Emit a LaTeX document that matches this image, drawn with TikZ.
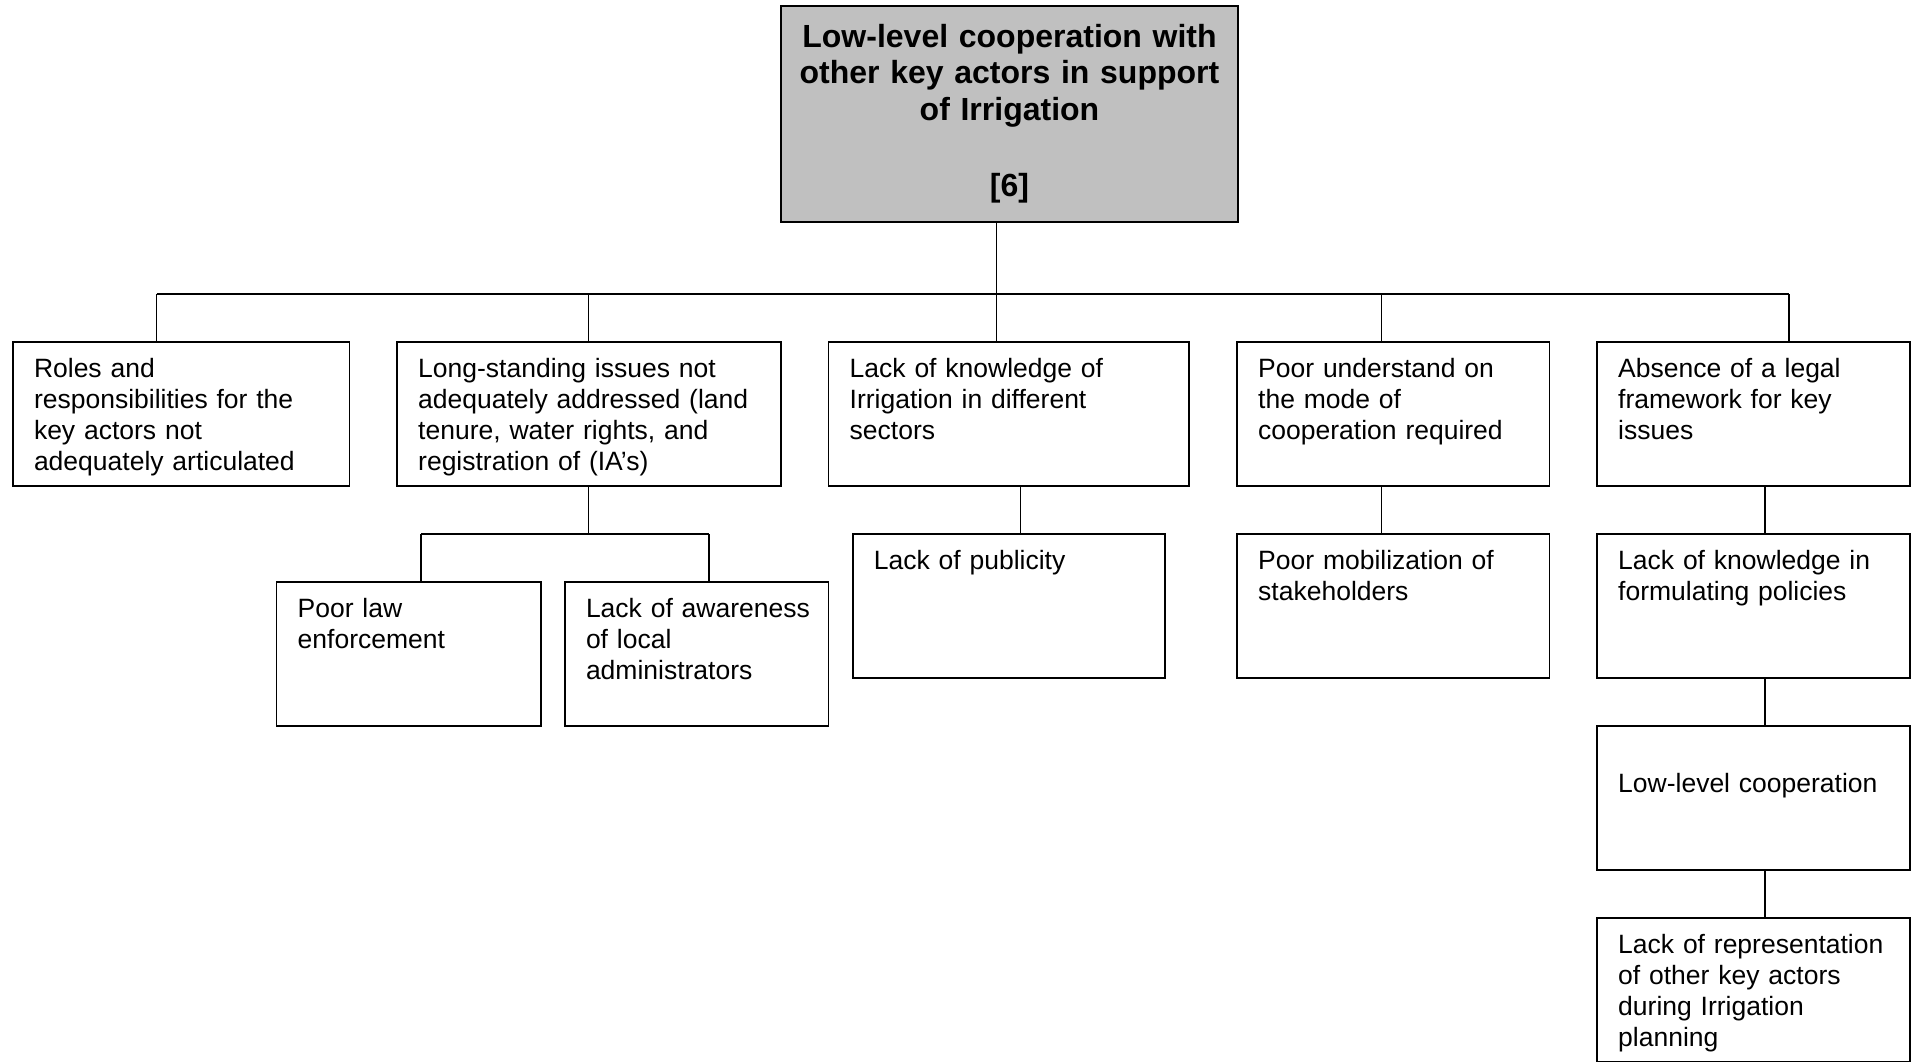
\documentclass[tikz,border=0pt]{standalone}
\usepackage{fontspec}
\setmainfont{Liberation Sans}
\definecolor{titlegray}{RGB}{192,192,192}
\begin{document}
\begin{tikzpicture}[x=1pt,y=-1pt,
  box/.style={draw, line width=1.6pt, inner sep=0pt, outer sep=0pt, minimum height=144pt},
  lbl/.style={anchor=base west, inner sep=0pt, text width=420pt, align=left,
              font=\fontsize{26.5}{31}\selectfont},
  ttl/.style={anchor=base, inner sep=0pt, text width=456pt, align=center,
              font=\fontsize{32}{36.5}\selectfont\bfseries},
  link/.style={line width=1.3pt}]
\clip (0,0) rectangle (1916,1061);

% root problem
\node[box, fill=titlegray, minimum width=457pt, minimum height=216pt] (top) at (1009.5,114) {};
\node[ttl] (ttop) at ([yshift=-41pt]top.north) {Low-level cooperation with\\other key actors in support\\of Irrigation\\\mbox{}\\[3pt]{[6]}};

% first level causes
\node[box, minimum width=336.7pt] (b1) at (181.15,414) {};
\node[box, minimum width=384pt]   (b2) at (589,414) {};
\node[box, minimum width=360.5pt] (b3) at (1008.75,414) {};
\node[box, minimum width=312.5pt] (b4) at (1393.25,414) {};
\node[box, minimum width=313pt]   (b5) at (1753.5,414) {};

\node[lbl] (t1) at ([xshift=21pt,yshift=-35pt]b1.north west) {Roles and\\responsibilities for the\\key actors not\\adequately articulated};
\node[lbl] (t2) at ([xshift=21pt,yshift=-35pt]b2.north west) {Long-standing issues not\\adequately addressed (land\\tenure, water rights, and\\registration of (IA’s)};
\node[lbl] (t3) at ([xshift=21pt,yshift=-35pt]b3.north west) {Lack of knowledge of\\Irrigation in different\\sectors};
\node[lbl] (t4) at ([xshift=21pt,yshift=-35pt]b4.north west) {Poor understand on\\the mode of\\cooperation required};
\node[lbl] (t5) at ([xshift=21pt,yshift=-35pt]b5.north west) {Absence of a legal\\framework for key\\issues};

% second level causes
\node[box, minimum width=264.3pt] (c1) at (408.65,654) {};
\node[box, minimum width=263.7pt] (c2) at (696.65,654) {};
\node[box, minimum width=312.3pt] (c3) at (1008.85,606) {};
\node[box, minimum width=312.5pt] (c4) at (1393.25,606) {};
\node[box, minimum width=313pt]   (c5) at (1753.5,606) {};

\node[lbl] (u1) at ([xshift=21pt,yshift=-35pt]c1.north west) {Poor law\\enforcement};
\node[lbl] (u2) at ([xshift=21pt,yshift=-35pt]c2.north west) {Lack of awareness\\of local\\administrators};
\node[lbl] (u3) at ([xshift=21pt,yshift=-35pt]c3.north west) {Lack of publicity};
\node[lbl] (u4) at ([xshift=21pt,yshift=-35pt]c4.north west) {Poor mobilization of\\stakeholders};
\node[lbl] (u5) at ([xshift=21pt,yshift=-35pt]c5.north west) {Lack of knowledge in\\formulating policies};

% deeper chain on the right
\node[box, minimum width=313pt] (d5) at (1753.5,798) {};
\node[lbl] (v5) at ([xshift=21pt,yshift=-66pt]d5.north west) {Low-level cooperation};
\node[box, minimum width=313pt] (e5) at (1753.5,990) {};
\node[lbl] (w5) at ([xshift=21pt,yshift=-35pt]e5.north west) {Lack of representation\\of other key actors\\during Irrigation\\planning};

% main bus
\coordinate (j1) at (156.6,294);
\coordinate (j2) at (588.8,294);
\coordinate (j3) at (996.8,294);
\coordinate (j4) at (1381.5,294);
\coordinate (j5) at (1789,294);
\draw[link] (top.south -| j3) -- (j3);
\draw[link] (j1) -- (j5);
\draw[link] (j1) -- (j1 |- b1.north);
\draw[link] (j2) -- (j2 |- b2.north);
\draw[link] (j3) -- (j3 |- b3.north);
\draw[link] (j4) -- (j4 |- b4.north);
\draw[link] (j5) -- (j5 |- b5.north);

% branch below the long-standing issues
\coordinate (k1) at (421,534);
\coordinate (k2) at (709,534);
\draw[link] (b2.south -| j2) -- (j2 |- k1);
\draw[link] (k1) -- (k2);
\draw[link] (k1) -- (k1 |- c1.north);
\draw[link] (k2) -- (k2 |- c2.north);

% single links
\coordinate (m3) at (1020.6,534);
\coordinate (m5) at (1765,534);
\draw[link] (b3.south -| m3) -- (c3.north -| m3);
\draw[link] (b4.south -| j4) -- (c4.north -| j4);
\draw[link] (b5.south -| m5) -- (c5.north -| m5);
\draw[link] (c5.south -| m5) -- (d5.north -| m5);
\draw[link] (d5.south -| m5) -- (e5.north -| m5);
\end{tikzpicture}
\end{document}
